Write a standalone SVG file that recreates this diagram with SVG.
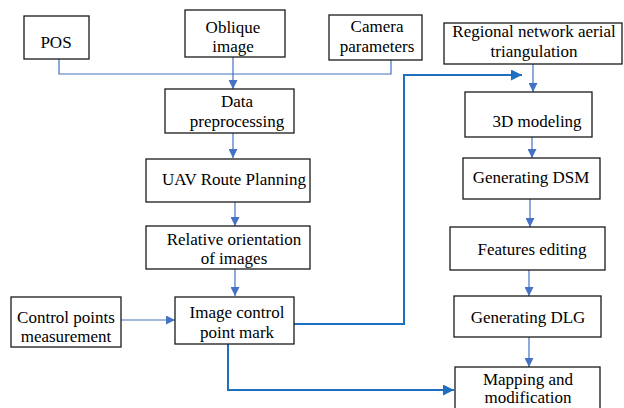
<svg xmlns="http://www.w3.org/2000/svg" width="624" height="408" viewBox="0 0 624 408">
<defs>
<marker id="a" viewBox="0 0 10 10" refX="10" refY="5" markerWidth="9" markerHeight="9" markerUnits="userSpaceOnUse" orient="auto"><path d="M0,0L10,5L0,10z" fill="#4472C4"/></marker>
<marker id="b" viewBox="0 0 10 10" refX="10" refY="5" markerWidth="11" markerHeight="11" markerUnits="userSpaceOnUse" orient="auto"><path d="M0,0L10,5L0,10z" fill="#1f6fc0"/></marker>
</defs>
<g id="connectors" fill="none">
<g stroke="#4472C4" stroke-width="1.2">
<path d="M59,59V74H391V60"/>
<path d="M233,57V89" marker-end="url(#a)"/>
<path d="M233,133V158" marker-end="url(#a)"/>
<path d="M235,202V226" marker-end="url(#a)"/>
<path d="M235,269V296" marker-end="url(#a)"/>
<path d="M121,320H175" marker-end="url(#a)"/>
<path d="M533,64V92" marker-end="url(#a)"/>
<path d="M532,137V158" marker-end="url(#a)"/>
<path d="M530,199V227" marker-end="url(#a)"/>
<path d="M529,270V296" marker-end="url(#a)"/>
<path d="M529,337V367" marker-end="url(#a)"/>
</g>
<g stroke="#1f6fc0" stroke-width="2">
<path d="M294,324H404V75H522" marker-end="url(#b)"/>
<path d="M228,344V390H454" marker-end="url(#b)"/>
</g>
</g>
<g fill="#fff" stroke="#1a1a1a" stroke-width="1.3">
<rect id="r-pos" x="24" y="16" width="65" height="43"/>
<rect id="r-oblique" x="185" y="10" width="100" height="47"/>
<rect id="r-camera" x="329" y="15" width="93" height="45"/>
<rect id="r-preprocess" x="165" y="89" width="129" height="44"/>
<rect id="r-uav" x="146" y="159" width="164" height="43"/>
<rect id="r-relative" x="146" y="226" width="164" height="43"/>
<rect id="r-control" x="11" y="297" width="110" height="50"/>
<rect id="r-mark" x="175" y="297" width="119" height="47"/>
<rect id="r-regional" x="444" y="23" width="178" height="41"/>
<rect id="r-model3d" x="465" y="92" width="127" height="45"/>
<rect id="r-dsm" x="463" y="158" width="137" height="41"/>
<rect id="r-features" x="450" y="227" width="155" height="43"/>
<rect id="r-dlg" x="454" y="296" width="147" height="41"/>
<rect id="r-mapping" x="455" y="367" width="145" height="45"/>
</g>
<g id="pos"><text font-family="Liberation Serif" font-size="17" text-anchor="middle" x="56" y="48">POS</text></g>
<g id="oblique"><text font-family="Liberation Serif" font-size="17" text-anchor="middle" x="233" y="33">Oblique</text><text font-family="Liberation Serif" font-size="17" text-anchor="middle" x="233" y="52">image</text></g>
<g id="camera"><text font-family="Liberation Serif" font-size="17" text-anchor="middle" x="377" y="32">Camera</text><text font-family="Liberation Serif" font-size="17" text-anchor="middle" x="377" y="52">parameters</text></g>
<g id="preprocess"><text font-family="Liberation Serif" font-size="17" text-anchor="middle" x="237" y="107">Data</text><text font-family="Liberation Serif" font-size="17" text-anchor="middle" x="237" y="127">preprocessing</text></g>
<g id="uav"><text font-family="Liberation Serif" font-size="17" text-anchor="middle" x="234" y="185">UAV Route Planning</text></g>
<g id="relative"><text font-family="Liberation Serif" font-size="17" text-anchor="middle" x="234" y="245">Relative orientation</text><text font-family="Liberation Serif" font-size="17" text-anchor="middle" x="234" y="264">of images</text></g>
<g id="control"><text font-family="Liberation Serif" font-size="17" text-anchor="middle" x="66" y="323">Control points</text><text font-family="Liberation Serif" font-size="17" text-anchor="middle" x="66" y="342">measurement</text></g>
<g id="mark"><text font-family="Liberation Serif" font-size="17" text-anchor="middle" x="237" y="318">Image control</text><text font-family="Liberation Serif" font-size="17" text-anchor="middle" x="237" y="338">point mark</text></g>
<g id="regional"><text font-family="Liberation Serif" font-size="17" text-anchor="middle" x="534" y="37">Regional network aerial</text><text font-family="Liberation Serif" font-size="17" text-anchor="middle" x="534" y="57">triangulation</text></g>
<g id="model3d"><text font-family="Liberation Serif" font-size="17" text-anchor="middle" x="537" y="127">3D modeling</text></g>
<g id="dsm"><text font-family="Liberation Serif" font-size="17" text-anchor="middle" x="531" y="183">Generating DSM</text></g>
<g id="features"><text font-family="Liberation Serif" font-size="17" text-anchor="middle" x="532" y="255">Features editing</text></g>
<g id="dlg"><text font-family="Liberation Serif" font-size="17" text-anchor="middle" x="528" y="323">Generating DLG</text></g>
<g id="mapping"><text font-family="Liberation Serif" font-size="17" text-anchor="middle" x="528" y="385">Mapping and</text><text font-family="Liberation Serif" font-size="17" text-anchor="middle" x="528" y="403">modification</text></g>
</svg>
